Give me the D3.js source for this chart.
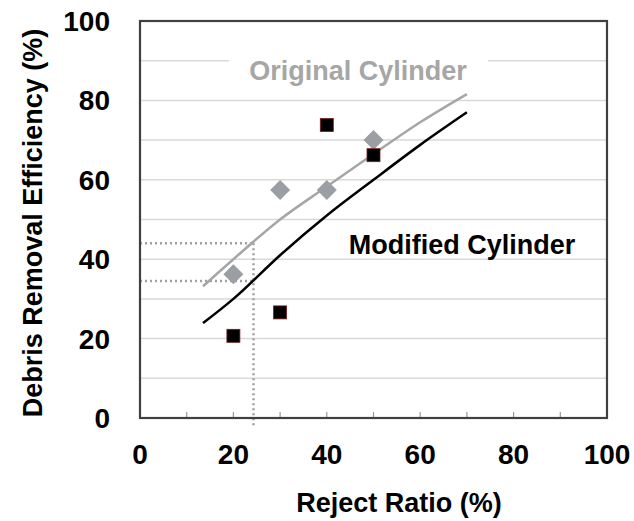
<!DOCTYPE html>
<html>
<head>
<meta charset="utf-8">
<script src="https://cdn.jsdelivr.net/npm/d3@7"></script>
<style>
  body { margin: 0; background: #fff; }
  text { font-family: "Liberation Sans", Arial, sans-serif; font-weight: bold; }
</style>
</head>
<body>
<svg id="chart_svg"></svg>
<script>

// measured points
var rejectRatio = [20, 30, 40, 50];
var originalEff = [36.2, 57.4, 57.4, 70.0];
var modifiedEff = [20.7, 26.6, 73.8, 66.2];

// trend lines
var trendX = [13.5, 20, 30, 40, 50, 60, 70];
var originalTrend = [33.2, 40, 50, 58.3, 66.5, 74.5, 81.6];
var modifiedTrend = [23.9, 30, 41, 51, 60, 68.8, 77];

// dotted guide
var guideX = 24.3;
var guideY = [44, 34.5];

var xTicks = [0, 20, 40, 60, 80, 100];
var yTicks = [0, 20, 40, 60, 80, 100];
var gridValues = [10, 20, 30, 40, 50, 60, 70, 80, 90];
var minorX = [10, 20, 30, 40, 50, 60, 70, 80, 90];

let width = 634, height = 521;
let margin = { top: 21, right: 27, bottom: 103, left: 140 };

var svg = d3.select("#chart_svg")
  .attr("width", width)
  .attr("height", height);

let xScale = d3.scaleLinear().domain([0, 100]).range([margin.left, width - margin.right]);
let yScale = d3.scaleLinear().domain([0, 100]).range([height - margin.bottom, margin.top]);

// gridlines
svg.append("g").selectAll("line")
  .data(gridValues)
  .enter()
  .append("line")
  .attr("x1", xScale(0))
  .attr("x2", xScale(100))
  .attr("y1", d => yScale(d))
  .attr("y2", d => yScale(d))
  .attr("stroke", "#d9d9d9")
  .attr("stroke-width", 1.5);

// tick marks on the bottom, pointing in
svg.append("g").selectAll("line")
  .data(minorX)
  .enter()
  .append("line")
  .attr("x1", d => xScale(d))
  .attr("x2", d => xScale(d))
  .attr("y1", yScale(0))
  .attr("y2", yScale(0) - 6)
  .attr("stroke", "#999")
  .attr("stroke-width", 1.2);

// labels with white boxes behind them
svg.append("rect")
  .attr("x", 229).attr("y", 52)
  .attr("width", 259).attr("height", 34)
  .attr("fill", "#fff");

svg.append("text")
  .attr("x", 358)
  .attr("y", 80)
  .attr("text-anchor", "middle")
  .style("font-size", "27px")
  .style("fill", "#a6a6a6")
  .text("Original Cylinder");

svg.append("text")
  .attr("x", 462)
  .attr("y", 254)
  .attr("text-anchor", "middle")
  .style("font-size", "27px")
  .style("fill", "#000")
  .text("Modified Cylinder");

// dotted guides
svg.append("g").selectAll("line")
  .data(guideY)
  .enter()
  .append("line")
  .attr("x1", xScale(0))
  .attr("x2", xScale(guideX))
  .attr("y1", d => yScale(d))
  .attr("y2", d => yScale(d))
  .attr("stroke", "#a0a0a0")
  .attr("stroke-width", 2.5)
  .attr("stroke-dasharray", "2,3");

svg.append("line")
  .attr("x1", xScale(guideX))
  .attr("x2", xScale(guideX))
  .attr("y1", yScale(d3.max(guideY)))
  .attr("y2", yScale(-2.5))
  .attr("stroke", "#a0a0a0")
  .attr("stroke-width", 2.5)
  .attr("stroke-dasharray", "2,3");

// trend lines
var line = d3.line()
  .x(d => xScale(d[0]))
  .y(d => yScale(d[1]))
  .curve(d3.curveMonotoneX);

svg.append("path")
  .datum(d3.zip(trendX, originalTrend))
  .attr("d", line)
  .attr("fill", "none")
  .attr("stroke", "#a6a6a6")
  .attr("stroke-width", 2.5);

svg.append("path")
  .datum(d3.zip(trendX, modifiedTrend))
  .attr("d", line)
  .attr("fill", "none")
  .attr("stroke", "#000")
  .attr("stroke-width", 2.5);

// diamonds
var diamond = d3.symbol().type(d3.symbolSquare).size(200);
svg.append("g").selectAll("path")
  .data(d3.zip(rejectRatio, originalEff))
  .enter()
  .append("path")
  .attr("d", diamond)
  .attr("transform", d => `translate(${xScale(d[0])},${yScale(d[1])}) rotate(45)`)
  .attr("fill", "#9c9ea6");

// squares
svg.append("g").selectAll("rect")
  .data(d3.zip(rejectRatio, modifiedEff))
  .enter()
  .append("rect")
  .attr("x", d => xScale(d[0]) - 6.5)
  .attr("y", d => yScale(d[1]) - 6.5)
  .attr("width", 13)
  .attr("height", 13)
  .attr("fill", "#000")
  .attr("stroke", "#7a1a1a")
  .attr("stroke-width", 0.8);

// frame
svg.append("rect")
  .attr("x", xScale(0))
  .attr("y", yScale(100))
  .attr("width", xScale(100) - xScale(0))
  .attr("height", yScale(0) - yScale(100))
  .attr("fill", "none")
  .attr("stroke", "#404040")
  .attr("stroke-width", 2.2);

// tick labels
svg.append("g").selectAll("text")
  .data(xTicks)
  .enter()
  .append("text")
  .attr("x", d => xScale(d))
  .attr("y", 464)
  .attr("text-anchor", "middle")
  .style("font-size", "28px")
  .text(d => d);

svg.append("g").selectAll("text")
  .data(yTicks)
  .enter()
  .append("text")
  .attr("x", 110)
  .attr("y", d => yScale(d))
  .attr("dy", "0.36em")
  .attr("text-anchor", "end")
  .style("font-size", "28px")
  .text(d => d);

// axis titles
svg.append("text")
  .attr("x", 399)
  .attr("y", 512)
  .attr("text-anchor", "middle")
  .style("font-size", "27px")
  .text("Reject Ratio (%)");

svg.append("text")
  .attr("transform", "translate(42,223) rotate(-90)")
  .attr("text-anchor", "middle")
  .style("font-size", "27px")
  .text("Debris Removal Efficiency (%)");

</script>
</body>
</html>
